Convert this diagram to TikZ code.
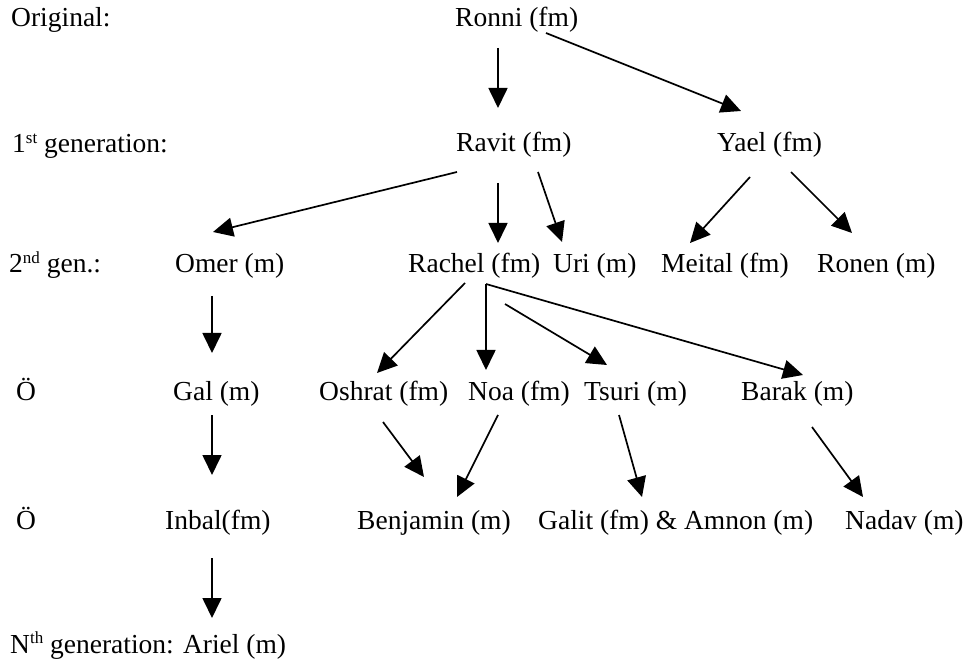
\documentclass[tikz,border=0pt]{standalone}
\usepackage{fontspec}
\setmainfont{Liberation Serif}
\usetikzlibrary{arrows.meta}
\newcommand{\supx}[1]{\raisebox{9.5pt}{\fontsize{17}{17}\selectfont #1}}
\begin{document}
\begin{tikzpicture}[x=1pt,y=-1pt,
  lbl/.style={anchor=base west,inner sep=0pt,font=\fontsize{27.5}{33}\selectfont},
  arr/.style={line width=1.7pt,-{Triangle[length=20pt,width=19pt]}}]
\useasboundingbox (0,0) rectangle (967,660);
% generation labels
\node[lbl] (orig) at (11,27) {Original:};
\node[lbl] (gen1) at (12,153) {1\supx{st} generation:};
\node[lbl] (gen2) at (9,273) {2\supx{nd} gen.:};
\node[lbl] (dots1) at (16,400) {Ö};
\node[lbl] (dots2) at (16,529) {Ö};
\node[lbl] (genN) at (10,653) {N\supx{th} generation: Ariel (m)};
% people
\node[lbl] (ronni) at (455,27) {Ronni (fm)};
\node[lbl] (ravit) at (456,152) {Ravit (fm)};
\node[lbl] (yael) at (717,152) {Yael (fm)};
\node[lbl] (omer) at (175,273) {Omer (m)};
\node[lbl] (rachel) at (408,273) {Rachel (fm)};
\node[lbl] (uri) at (553,273) {Uri (m)};
\node[lbl] (meital) at (661,273) {Meital (fm)};
\node[lbl] (ronen) at (817,273) {Ronen (m)};
\node[lbl] (gal) at (173,400) {Gal (m)};
\node[lbl] (oshrat) at (319,400) {Oshrat (fm)};
\node[lbl] (noa) at (468,400) {Noa (fm)};
\node[lbl] (tsuri) at (584,400) {Tsuri (m)};
\node[lbl] (barak) at (741,400) {Barak (m)};
\node[lbl] (inbal) at (165,529) {Inbal(fm)};
\node[lbl] (benjamin) at (357,529) {Benjamin (m)};
\node[lbl] (galit) at (538,529) {Galit (fm) \& Amnon (m)};
\node[lbl] (nadav) at (845,529) {Nadav (m)};
% connector end points
\coordinate (ronni-a) at (498,48);  \coordinate (ravit-in) at (498,108);
\coordinate (ronni-b) at (546,33);  \coordinate (yael-in) at (741,111);
\coordinate (ravit-a) at (457,172); \coordinate (omer-in) at (213,232);
\coordinate (ravit-b) at (498,183); \coordinate (rachel-in) at (498,243);
\coordinate (ravit-c) at (538,172); \coordinate (uri-in) at (562,242);
\coordinate (yael-a) at (750,177);  \coordinate (meital-in) at (690,243);
\coordinate (yael-b) at (791,172);  \coordinate (ronen-in) at (852,233);
\coordinate (omer-a) at (212,296);  \coordinate (gal-in) at (212,353);
\coordinate (gal-a) at (212,415);   \coordinate (inbal-in) at (212,475);
\coordinate (inbal-a) at (212,558); \coordinate (ariel-in) at (212,618);
\coordinate (rachel-a) at (465,283); \coordinate (oshrat-in) at (377,373);
\coordinate (rachel-b) at (486,284); \coordinate (noa-in) at (486,370);
\coordinate (rachel-c) at (505,304); \coordinate (tsuri-in) at (607,365);
\coordinate (barak-in) at (803,375);
\coordinate (oshrat-a) at (383,422); \coordinate (benj-in1) at (424,477);
\coordinate (noa-a) at (498,415);    \coordinate (benj-in2) at (457,497);
\coordinate (tsuri-a) at (619,415);  \coordinate (galit-in) at (642,497);
\coordinate (barak-a) at (812,427);  \coordinate (nadav-in) at (863,497);
% connectors
\draw[arr] (ronni-a) -- (ravit-in);
\draw[arr] (ronni-b) -- (yael-in);
\draw[arr] (ravit-a) -- (omer-in);
\draw[arr] (ravit-b) -- (rachel-in);
\draw[arr] (ravit-c) -- (uri-in);
\draw[arr] (yael-a) -- (meital-in);
\draw[arr] (yael-b) -- (ronen-in);
\draw[arr] (omer-a) -- (gal-in);
\draw[arr] (gal-a) -- (inbal-in);
\draw[arr] (inbal-a) -- (ariel-in);
\draw[arr] (rachel-a) -- (oshrat-in);
\draw[arr] (rachel-b) -- (noa-in);
\draw[arr] (rachel-c) -- (tsuri-in);
\draw[arr] (rachel-b) -- (barak-in);
\draw[arr] (oshrat-a) -- (benj-in1);
\draw[arr] (noa-a) -- (benj-in2);
\draw[arr] (tsuri-a) -- (galit-in);
\draw[arr] (barak-a) -- (nadav-in);
\end{tikzpicture}
\end{document}
